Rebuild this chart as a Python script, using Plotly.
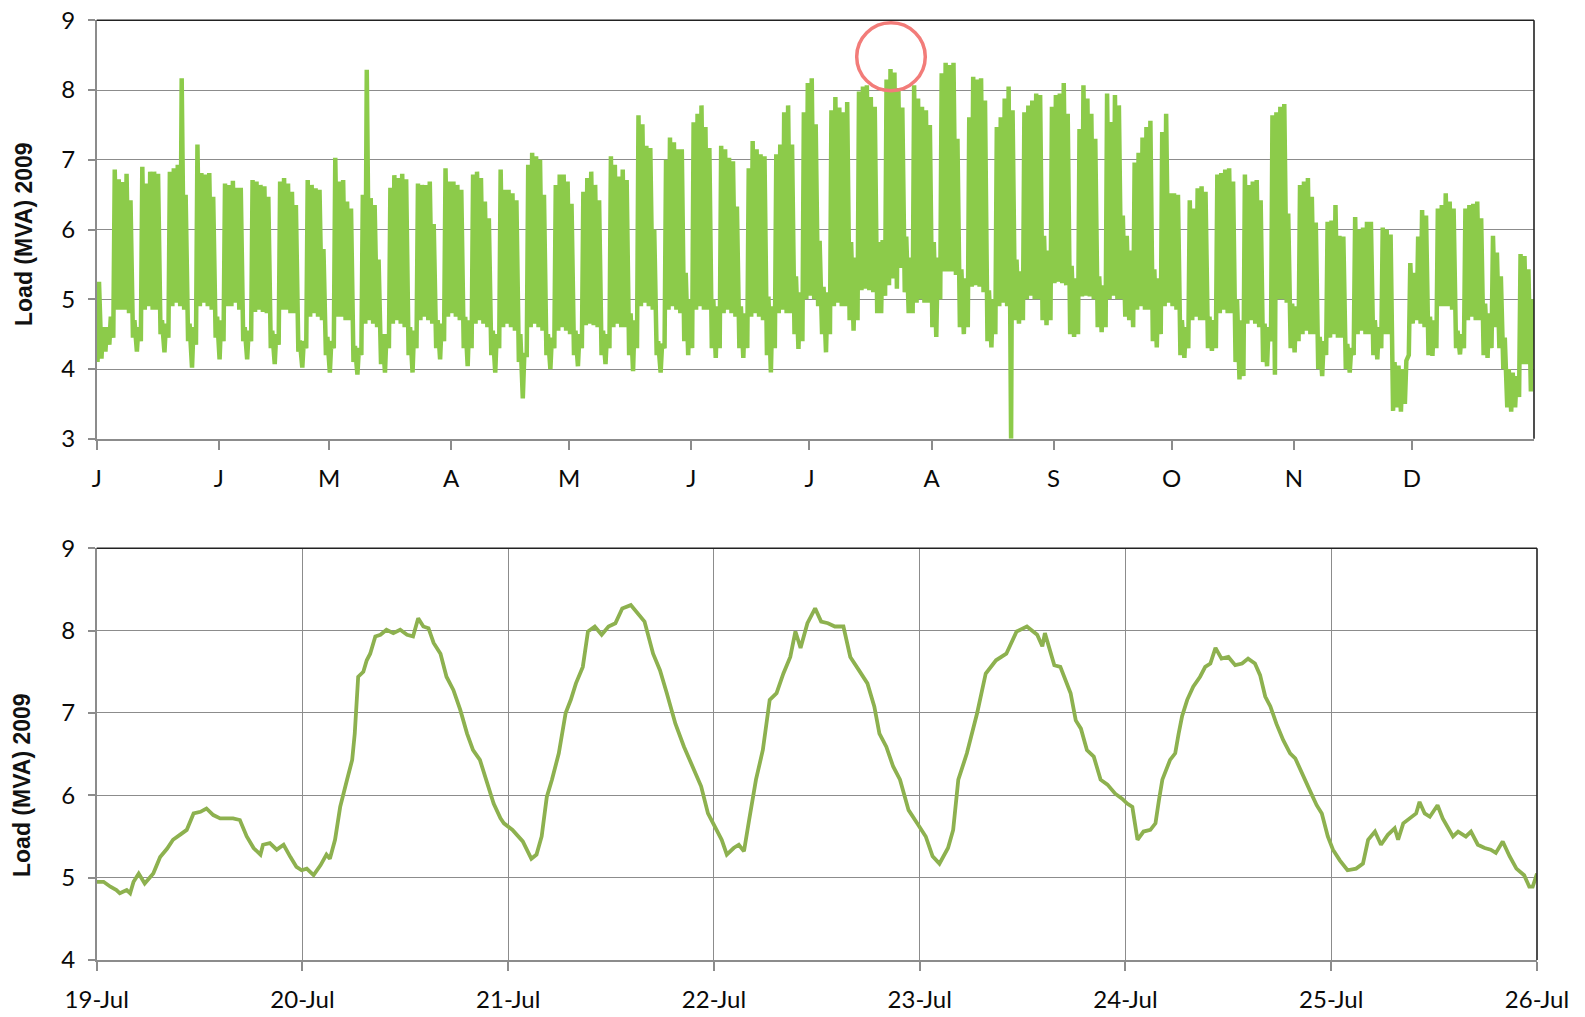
import pandas as pd
import plotly.graph_objects as go

# ---------------- Top chart: daily peak / night-low load, 2009 (MVA) ----------------
# Rows are weeks (Mon..Sun); first row = Thu 1 Jan .. Sun 4 Jan, last row = Mon 28 .. Thu 31 Dec
week_peaks = [
    [5.25, 4.60, 4.60, 4.75],
    [6.86, 6.72, 6.68, 6.80, 6.42, 4.70, 4.60],
    [6.90, 6.66, 6.83, 6.83, 6.80, 4.70, 4.65],
    [6.83, 6.88, 6.93, 8.17, 6.50, 4.65, 4.60],
    [7.22, 6.81, 6.79, 6.81, 6.47, 4.75, 4.70],
    [6.66, 6.64, 6.70, 6.60, 6.60, 4.60, 4.55],
    [6.71, 6.69, 6.64, 6.62, 6.47, 4.55, 4.50],
    [6.69, 6.74, 6.66, 6.54, 6.35, 4.41, 4.40],
    [6.71, 6.64, 6.59, 6.57, 5.72, 4.46, 4.40],
    [7.03, 6.69, 6.71, 6.40, 6.30, 4.33, 4.30],
    [6.50, 8.29, 6.45, 6.35, 5.57, 4.50, 4.50],
    [6.60, 6.78, 6.74, 6.80, 6.72, 4.60, 4.55],
    [6.66, 6.64, 6.64, 6.69, 6.08, 4.70, 4.65],
    [6.88, 6.69, 6.69, 6.64, 6.57, 4.75, 4.70],
    [6.79, 6.83, 6.74, 6.40, 6.16, 4.55, 4.50],
    [6.86, 6.57, 6.57, 6.52, 6.42, 4.50, 4.20],
    [6.93, 7.10, 7.05, 7.00, 6.50, 4.50, 4.45],
    [6.64, 6.79, 6.79, 6.69, 6.37, 4.55, 4.50],
    [6.54, 6.74, 6.83, 6.64, 6.42, 4.55, 4.50],
    [7.05, 6.93, 6.76, 6.86, 6.71, 4.80, 4.70],
    [7.64, 7.51, 7.20, 7.17, 6.00, 4.40, 4.36],
    [7.00, 7.32, 7.25, 7.15, 7.15, 5.38, 5.00],
    [7.54, 7.66, 7.78, 7.47, 7.17, 5.00, 4.90],
    [7.20, 7.15, 7.03, 6.98, 6.33, 4.90, 4.80],
    [6.88, 7.27, 7.15, 7.08, 7.05, 5.04, 4.90],
    [7.08, 7.22, 7.68, 7.78, 7.22, 5.33, 5.10],
    [7.68, 8.10, 8.17, 7.51, 5.84, 5.18, 5.10],
    [7.71, 7.90, 7.75, 7.68, 7.83, 5.82, 5.60],
    [7.98, 8.05, 8.07, 7.90, 7.76, 5.82, 5.85],
    [8.15, 8.30, 8.25, 8.03, 7.75, 5.90, 5.60],
    [8.07, 7.88, 7.76, 7.71, 7.50, 5.82, 5.60],
    [8.24, 8.39, 8.36, 8.39, 7.30, 5.43, 5.30],
    [7.61, 8.19, 8.15, 8.17, 7.85, 5.13, 5.00],
    [7.47, 7.61, 7.88, 8.05, 7.71, 5.57, 5.40],
    [7.68, 7.78, 7.85, 7.95, 7.93, 5.91, 5.70],
    [7.76, 7.93, 7.95, 8.10, 7.66, 5.48, 5.30],
    [7.44, 8.07, 7.88, 7.66, 7.30, 5.33, 5.20],
    [7.95, 7.54, 7.93, 7.78, 6.20, 5.91, 5.70],
    [6.96, 7.10, 7.32, 7.47, 7.56, 5.43, 5.30],
    [7.40, 7.66, 6.52, 6.52, 6.50, 4.70, 4.60],
    [6.42, 6.30, 6.59, 6.62, 6.54, 4.75, 4.70],
    [6.79, 6.81, 6.86, 6.88, 6.69, 5.00, 4.70],
    [6.79, 6.64, 6.69, 6.71, 6.42, 4.65, 4.60],
    [7.64, 7.68, 7.76, 7.80, 6.23, 4.94, 4.90],
    [6.64, 6.69, 6.74, 6.47, 6.10, 4.46, 4.40],
    [6.11, 6.13, 6.35, 5.91, 5.90, 4.36, 4.30],
    [6.18, 6.00, 6.03, 6.11, 6.11, 4.70, 4.60],
    [6.03, 6.00, 5.93, 4.10, 4.05, 4.00, 4.12],
    [5.52, 5.38, 5.90, 6.28, 6.20, 4.75, 4.70],
    [6.30, 6.35, 6.52, 6.40, 6.30, 4.55, 4.50],
    [6.30, 6.35, 6.37, 6.40, 6.16, 4.94, 4.80],
    [5.91, 5.67, 5.33, 4.45, 4.00, 3.95, 3.90],
    [5.65, 5.62, 5.43, 5.00],
]
week_lows = [
    [4.10, 4.15, 4.25, 4.35],
    [4.45, 4.85, 4.85, 4.85, 4.80, 4.45, 4.25],
    [4.40, 4.85, 4.90, 4.85, 4.85, 4.50, 4.24],
    [4.45, 4.90, 4.95, 4.90, 4.85, 4.40, 4.02],
    [4.35, 4.90, 4.95, 4.90, 4.85, 4.45, 4.14],
    [4.40, 4.90, 4.90, 4.95, 4.85, 4.40, 4.14],
    [4.40, 4.82, 4.85, 4.82, 4.80, 4.30, 4.07],
    [4.35, 4.85, 4.85, 4.80, 4.80, 4.25, 4.02],
    [4.30, 4.75, 4.80, 4.75, 4.70, 4.20, 3.95],
    [4.30, 4.75, 4.75, 4.70, 4.70, 4.10, 3.92],
    [4.20, 4.65, 4.70, 4.65, 4.60, 4.07, 3.95],
    [4.30, 4.65, 4.70, 4.65, 4.60, 4.20, 3.95],
    [4.30, 4.70, 4.75, 4.70, 4.65, 4.30, 4.14],
    [4.40, 4.75, 4.80, 4.75, 4.70, 4.30, 4.04],
    [4.30, 4.65, 4.70, 4.65, 4.60, 4.20, 3.95],
    [4.30, 4.60, 4.65, 4.60, 4.55, 4.10, 3.58],
    [4.20, 4.60, 4.65, 4.60, 4.55, 4.20, 4.00],
    [4.30, 4.55, 4.60, 4.55, 4.50, 4.20, 4.04],
    [4.30, 4.63, 4.65, 4.63, 4.60, 4.20, 4.07],
    [4.30, 4.60, 4.65, 4.60, 4.60, 4.20, 3.97],
    [4.30, 4.90, 4.95, 4.90, 4.85, 4.20, 3.95],
    [4.30, 4.85, 4.90, 4.85, 4.80, 4.40, 4.20],
    [4.30, 4.85, 4.90, 4.85, 4.85, 4.30, 4.16],
    [4.30, 4.80, 4.85, 4.80, 4.75, 4.30, 4.16],
    [4.30, 4.75, 4.80, 4.75, 4.70, 4.20, 3.95],
    [4.30, 4.80, 4.85, 4.80, 4.80, 4.50, 4.29],
    [4.40, 5.00, 5.05, 5.00, 4.90, 4.50, 4.24],
    [4.50, 4.90, 4.95, 4.90, 4.90, 4.70, 4.55],
    [4.70, 5.13, 5.15, 5.13, 5.10, 4.80, 4.80],
    [5.05, 5.20, 5.30, 5.15, 5.45, 5.10, 4.80],
    [4.80, 4.95, 5.00, 4.95, 4.95, 4.60, 4.46],
    [5.00, 5.40, 5.40, 5.40, 5.35, 4.60, 4.50],
    [4.60, 5.18, 5.20, 5.18, 5.10, 4.40, 4.31],
    [4.50, 4.90, 4.95, 4.90, 3.00, 4.70, 4.65],
    [4.70, 5.00, 5.05, 5.00, 5.00, 4.70, 4.63],
    [4.70, 5.23, 5.25, 5.23, 5.20, 4.50, 4.46],
    [4.50, 5.04, 5.05, 5.04, 5.00, 4.60, 4.53],
    [4.60, 5.00, 5.05, 5.00, 5.00, 4.75, 4.70],
    [4.60, 4.85, 4.90, 4.85, 4.85, 4.40, 4.31],
    [4.50, 4.90, 4.95, 4.90, 4.85, 4.20, 4.16],
    [4.30, 4.70, 4.75, 4.70, 4.70, 4.30, 4.26],
    [4.30, 4.80, 4.85, 4.80, 4.80, 4.10, 3.85],
    [3.90, 4.65, 4.70, 4.65, 4.60, 4.10, 4.04],
    [4.40, 3.92, 5.00, 5.00, 4.95, 4.30, 4.24],
    [4.40, 4.50, 4.55, 4.50, 4.50, 4.00, 3.90],
    [4.20, 4.45, 4.50, 4.45, 4.45, 4.00, 3.95],
    [4.20, 4.50, 4.55, 4.50, 4.50, 4.20, 4.14],
    [4.30, 4.50, 4.50, 3.40, 3.45, 3.39, 3.50],
    [4.20, 4.65, 4.70, 4.65, 4.60, 4.20, 4.19],
    [4.30, 4.90, 4.90, 4.90, 4.85, 4.30, 4.21],
    [4.30, 4.70, 4.75, 4.70, 4.70, 4.20, 4.16],
    [4.30, 4.60, 4.30, 4.00, 3.45, 3.39, 3.45],
    [3.60, 4.07, 4.07, 3.68],
]
month_starts = ["2009-01-01", "2009-02-01", "2009-03-01", "2009-04-01", "2009-05-01", "2009-06-01",
                "2009-07-01", "2009-08-01", "2009-09-01", "2009-10-01", "2009-11-01", "2009-12-01"]
month_labels = ["J", "J", "M", "A", "M", "J", "J", "A", "S", "O", "N", "D"]

# ---------------- Bottom chart: one week, 19-26 Jul 2009 ----------------
week_hours = [0, 0.8, 1.6, 2.3, 2.7, 3.5, 3.9, 4.3, 4.9, 5.6, 6.6, 7.4, 8.2, 8.9, 9.7, 10.5, 11.3, 12.1,
              12.8, 13.6, 14.4, 15.2, 15.9, 16.7, 17.5, 18.3, 19.1, 19.4, 20.2, 21.0, 21.8, 22.6, 23.3,
              23.9, 24.5, 25.3, 26.1, 26.8, 27.2, 27.8, 28.4, 29.2, 29.8, 30.1, 30.5, 31.1, 31.5, 31.9,
              32.5, 33.1, 33.8, 34.6, 35.4, 36.2, 36.9, 37.5, 38.1, 38.7, 39.3, 40.1, 40.8, 41.6, 42.4,
              43.2, 43.9, 44.7, 45.5, 46.3, 47.1, 47.5, 48.5, 49.7, 50.7, 51.3, 51.9, 52.5, 53.1, 53.9,
              54.7, 55.3, 55.9, 56.7, 57.3, 58.1, 58.9, 59.7, 60.5, 61.3, 62.3, 63.1, 63.9, 64.9, 65.7,
              66.5, 67.5, 68.5, 69.5, 70.5, 71.3, 72.1, 72.9, 73.5, 74.3, 74.9, 75.5, 76.1, 76.9, 77.7,
              78.5, 79.3, 80.1, 80.9, 81.5, 82.1, 82.9, 83.8, 84.5, 85.3, 86.1, 87.1, 87.9, 88.9, 89.9,
              90.7, 91.3, 92.1, 92.9, 93.7, 94.7, 95.7, 96.7, 97.5, 98.3, 99.3, 99.9, 100.5, 101.5,
              102.7, 103.7, 104.9, 106.1, 107.3, 108.5, 109.7, 110.3, 110.6, 111.1, 111.7, 112.4,
              113.0, 113.6, 114.2, 114.8, 115.5, 116.3, 117.1, 117.9, 118.8, 119.6, 120.2, 120.8,
              121.4, 122.1, 122.9, 123.5, 123.9, 124.3, 125.2, 125.8, 126.2, 126.6, 127.2, 127.9,
              128.7, 129.3, 129.9, 130.5, 131.2, 132.0, 132.8, 133.6, 134.3, 135.1, 135.7, 136.3,
              136.9, 137.6, 138.4, 139.2, 139.8, 140.7, 141.5, 142.3, 142.9, 143.6, 144.2, 145.0,
              145.9, 146.9, 147.7, 148.3, 149.1, 149.8, 150.6, 151.4, 151.8, 152.4, 153.3, 153.9,
              154.3, 154.9, 155.5, 156.4, 157.0, 157.6, 158.2, 158.8, 159.7, 160.3, 161.1, 161.9,
              162.6, 163.2, 164.0, 164.8, 165.6, 166.5, 167.1, 167.5, 168.0]
week_load = [4.95, 4.95, 4.89, 4.85, 4.81, 4.85, 4.81, 4.95, 5.05, 4.93, 5.05, 5.25, 5.35, 5.46, 5.52, 5.58,
             5.78, 5.80, 5.84, 5.76, 5.72, 5.72, 5.72, 5.70, 5.50, 5.36, 5.28, 5.40, 5.42, 5.34, 5.40,
             5.25, 5.13, 5.09, 5.11, 5.03, 5.15, 5.28, 5.23, 5.46, 5.86, 6.19, 6.43, 6.75, 7.44, 7.50,
             7.64, 7.72, 7.93, 7.95, 8.01, 7.97, 8.01, 7.95, 7.93, 8.15, 8.05, 8.03, 7.85, 7.72, 7.44,
             7.28, 7.04, 6.75, 6.55, 6.43, 6.15, 5.90, 5.72, 5.66, 5.58, 5.44, 5.23, 5.28, 5.50, 5.98,
             6.19, 6.51, 7.00, 7.16, 7.36, 7.56, 7.99, 8.05, 7.95, 8.05, 8.09, 8.27, 8.31, 8.21, 8.11,
             7.72, 7.52, 7.24, 6.87, 6.59, 6.35, 6.11, 5.78, 5.62, 5.46, 5.28, 5.36, 5.40, 5.32, 5.70,
             6.19, 6.55, 7.16, 7.24, 7.48, 7.68, 7.99, 7.79, 8.09, 8.27, 8.11, 8.09, 8.05, 8.05, 7.68,
             7.52, 7.36, 7.08, 6.75, 6.59, 6.35, 6.19, 5.82, 5.66, 5.50, 5.26, 5.17, 5.36, 5.58, 6.19,
             6.51, 7.00, 7.48, 7.64, 7.72, 7.99, 8.05, 7.95, 7.81, 7.97, 7.79, 7.58, 7.56, 7.40, 7.24,
             6.91, 6.81, 6.55, 6.47, 6.19, 6.13, 6.02, 5.96, 5.90, 5.86, 5.46, 5.56, 5.58, 5.66, 5.94,
             6.19, 6.43, 6.51, 6.75, 6.96, 7.16, 7.32, 7.44, 7.56, 7.60, 7.79, 7.66, 7.68, 7.58, 7.60,
             7.66, 7.60, 7.46, 7.20, 7.08, 6.87, 6.67, 6.51, 6.45, 6.23, 6.06, 5.88, 5.78, 5.50, 5.34,
             5.21, 5.09, 5.11, 5.17, 5.46, 5.56, 5.40, 5.52, 5.60, 5.46, 5.66, 5.74, 5.78, 5.92, 5.78,
             5.74, 5.88, 5.72, 5.62, 5.50, 5.56, 5.50, 5.56, 5.40, 5.36, 5.34, 5.30, 5.44, 5.26, 5.11,
             5.03, 4.89, 4.89, 5.05]

# ---------------- build series ----------------
daily_peak = [v for wk in week_peaks for v in wk]
daily_low = [v for wk in week_lows for v in wk]
year_start = pd.Timestamp("2009-01-01")
top_x, top_y = [], []
for d, (lo, hi) in enumerate(zip(daily_low, daily_peak)):
    top_x.append(year_start + pd.Timedelta(days=d, hours=5))
    top_y.append(lo)
    top_x.append(year_start + pd.Timedelta(days=d, hours=14))
    top_y.append(hi)

wk_start = pd.Timestamp("2009-07-19")
bot_x = [wk_start + pd.Timedelta(hours=h) for h in week_hours]

TOP_GREEN = "#8CCB4A"
BOT_GREEN = "#8DB14F"
GRID = "#8c8c8c"
TICKFONT = dict(family="Lato, Open Sans, sans-serif", size=24, color="#0a0a0a")

fig = go.Figure()
fig.add_trace(go.Scatter(x=top_x, y=top_y, mode="lines", line=dict(color=TOP_GREEN, width=4.5),
                         xaxis="x", yaxis="y", showlegend=False, hoverinfo="skip"))
fig.add_trace(go.Scatter(x=bot_x, y=week_load, mode="lines", line=dict(color=BOT_GREEN, width=3.8),
                         xaxis="x2", yaxis="y2", showlegend=False, hoverinfo="skip"))

W, H = 1585, 1017
common_axis = dict(showline=True, linecolor=GRID, linewidth=1.5, ticks="outside", tickcolor=GRID,
                   tickwidth=1.5, zeroline=False, tickfont=TICKFONT, automargin=False)

fig.update_layout(
    width=W, height=H, margin=dict(l=0, r=0, t=0, b=0, autoexpand=False),
    paper_bgcolor="white", plot_bgcolor="white",
    xaxis=dict(domain=[96.7 / W, 1534 / W], anchor="y", type="date",
               range=["2009-01-01", "2010-01-01"], tickvals=month_starts, ticktext=month_labels,
               showgrid=False, ticklen=9, ticklabelstandoff=9, **common_axis),
    yaxis=dict(domain=[1 - 438.8 / H, 1 - 20.3 / H], anchor="x", range=[3, 9], dtick=1,
               showgrid=True, gridcolor=GRID, gridwidth=1.3, ticklen=7, ticklabelstandoff=8,
               **common_axis),
    xaxis2=dict(domain=[96.7 / W, 1537 / W], anchor="y2", type="date",
                range=["2009-07-19", "2009-07-26"], dtick=86400000, tickformat="%-d-%b",
                showgrid=True, gridcolor=GRID, gridwidth=1.3, ticklen=9, ticklabelstandoff=8,
                **common_axis),
    yaxis2=dict(domain=[1 - 960 / H, 1 - 548.3 / H], anchor="x2", range=[4, 9], dtick=1,
                showgrid=True, gridcolor=GRID, gridwidth=1.3, ticklen=7, ticklabelstandoff=8,
                **common_axis),
)

shapes = []
for xr, yr in (("x domain", "y domain"), ("x2 domain", "y2 domain")):
    shapes.append(dict(type="line", xref=xr, yref=yr, x0=0, x1=1, y0=1, y1=1,
                       line=dict(color="#222", width=1.6)))
    shapes.append(dict(type="line", xref=xr, yref=yr, x0=1, x1=1, y0=0, y1=1,
                       line=dict(color="#222", width=1.6)))
# highlight circle around the July peak
shapes.append(dict(type="circle", xref="x", yref="y", x0="2009-07-13", x1="2009-07-30 10:00",
                   y0=7.99, y1=8.966, line=dict(color="#F27C79", width=3.5)))
fig.update_layout(shapes=shapes)

title_font = dict(family="Liberation Sans, Arial, sans-serif", size=23, color="#111")
fig.add_annotation(text="<b>Load (MVA) 2009</b>", xref="paper", yref="paper", x=24 / W, y=1 - 234 / H,
                   textangle=-90, showarrow=False, font=title_font, xanchor="center", yanchor="middle")
fig.add_annotation(text="<b>Load (MVA) 2009</b>", xref="paper", yref="paper", x=22 / W, y=1 - 785 / H,
                   textangle=-90, showarrow=False, font=title_font, xanchor="center", yanchor="middle")

fig.write_html("out.html")
